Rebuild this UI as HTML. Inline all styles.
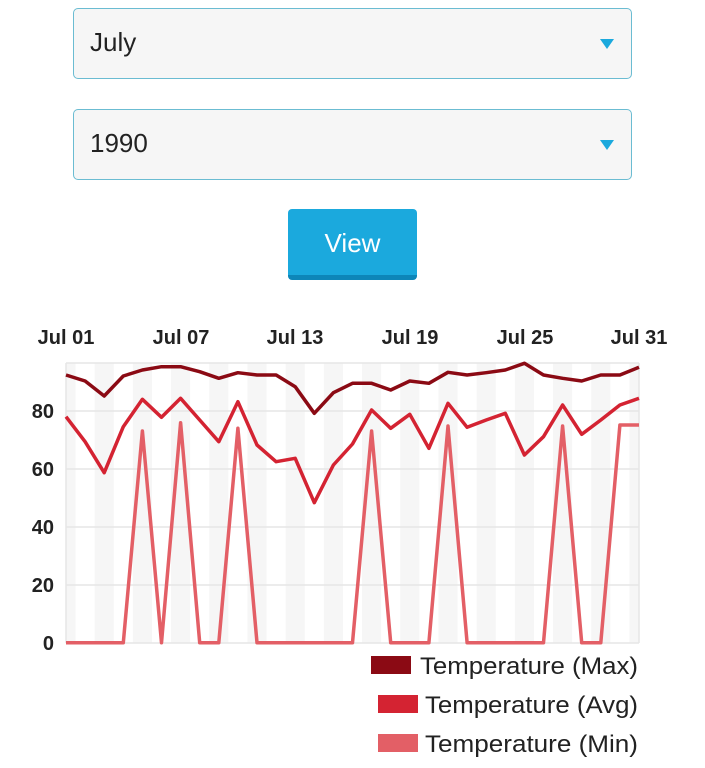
<!DOCTYPE html>
<html><head><meta charset="utf-8"><style>
html,body{margin:0;padding:0;background:#fff;width:705px;height:768px;overflow:hidden;font-family:"Liberation Sans",sans-serif}
.sel{position:absolute;left:73px;width:559px;height:71px;border:1.5px solid #6bbcd2;border-radius:5px;background:#f6f6f6;box-sizing:border-box}
.sel span{position:absolute;left:16px;top:18px;font-size:26px;color:#222}
.sel i{position:absolute;right:17px;top:30px;width:0;height:0;border-left:7px solid transparent;border-right:7px solid transparent;border-top:10px solid #1ba9dd}
.btn{position:absolute;left:288px;top:209px;width:129px;height:71px;background:#1ba9dd;border-radius:4px;border-bottom:5px solid #0d86b8;box-sizing:border-box;color:#fff;font-size:26px;text-align:center;line-height:68px}
svg{position:absolute;left:0;top:0}
</style></head><body>
<div class="sel" style="top:8px"><span>July</span><i></i></div>
<div class="sel" style="top:109px"><span>1990</span><i></i></div>
<div class="btn">View</div>
<svg width="705" height="768" id="s">
<g id="bands"></g>
<g stroke="#e6e6e6" stroke-width="1.5">
<line x1="66" x2="639" y1="643" y2="643"/><line x1="66" x2="639" y1="585" y2="585"/>
<line x1="66" x2="639" y1="527" y2="527"/><line x1="66" x2="639" y1="469" y2="469"/>
<line x1="66" x2="639" y1="411" y2="411"/><line x1="66" x2="639" y1="363" y2="363"/>
<line x1="66" x2="66" y1="363" y2="643"/><line x1="639" x2="639" y1="363" y2="643"/>
</g>
<g font-size="20" font-weight="bold" fill="#222" text-anchor="middle">
<text x="66" y="344">Jul 01</text><text x="181" y="344">Jul 07</text><text x="295" y="344">Jul 13</text>
<text x="410" y="344">Jul 19</text><text x="525" y="344">Jul 25</text><text x="639" y="344">Jul 31</text>
</g>
<g font-size="20" font-weight="bold" fill="#222" text-anchor="end">
<text x="54" y="650">0</text><text x="54" y="592">20</text><text x="54" y="534">40</text>
<text x="54" y="476">60</text><text x="54" y="418">80</text>
</g>
<g fill="none" stroke-width="3.5" stroke-linejoin="round" id="lines"></g>
<rect x="371" y="656" width="40" height="18" fill="#8b0a14"/>
<rect x="378" y="695" width="40" height="18" fill="#d42332"/>
<rect x="378" y="734" width="40" height="18" fill="#e35f66"/>
<g font-size="24" fill="#222">
<text x="420" y="674" textLength="218" lengthAdjust="spacingAndGlyphs">Temperature (Max)</text>
<text x="425" y="713" textLength="213" lengthAdjust="spacingAndGlyphs">Temperature (Avg)</text>
<text x="425" y="752" textLength="213" lengthAdjust="spacingAndGlyphs">Temperature (Min)</text>
</g>
</svg>
<script>
var mx=[165,183,228,168,150,140,140,155,175,158,165,165,200,280,218,190,190,210,183,190,157,165,158,150,130,165,175,183,165,165,142];
var av=[290,365,458,320,238,292,235,300,365,245,375,425,415,548,435,372,270,325,283,385,250,322,300,280,405,350,255,343,300,255,235];
var mn=[968,968,968,968,333,968,308,968,968,325,968,968,968,968,968,968,333,968,968,968,318,968,968,968,968,968,318,968,968,315,315];
var st=573/30,ns="http://www.w3.org/2000/svg";
function pts(a){return a.map(function(v,i){return (66+i*st).toFixed(1)+","+(320+v/3).toFixed(1)}).join(" ")}
var L=document.getElementById("lines");
[[mn,"#e35f66"],[av,"#d42332"],[mx,"#8b0a14"]].forEach(function(p){var e=document.createElementNS(ns,"polyline");e.setAttribute("points",pts(p[0]));e.setAttribute("stroke",p[1]);L.appendChild(e)});
var B=document.getElementById("bands");
for(var i=0;i<31;i+=2){var r=document.createElementNS(ns,"rect");var x=66+i*st-st/2;var x0=Math.max(66,x),x1=Math.min(639,x+st);r.setAttribute("x",x0);r.setAttribute("width",x1-x0);r.setAttribute("y",363);r.setAttribute("height",280);r.setAttribute("fill","#f6f6f6");B.appendChild(r)}
</script>
</body></html>
